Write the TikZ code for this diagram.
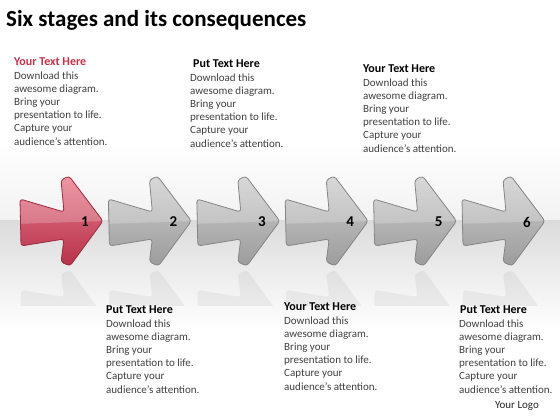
\documentclass[tikz,border=0pt]{standalone}
\usepackage{fontspec}
\setmainfont{Carlito}
\definecolor{redA}{HTML}{E8788A}
\definecolor{redB}{HTML}{B6334B}
\definecolor{redE}{HTML}{9E2A3E}
\definecolor{grayA}{HTML}{CDCDCD}
\definecolor{grayB}{HTML}{9C9C9C}
\definecolor{grayE}{HTML}{858585}
\definecolor{bodytxt}{HTML}{404040}
\definecolor{hdred}{HTML}{C3314B}
\tikzset{
  arrowpath/.style={rounded corners=3pt},
  redfill/.style={top color=redA,bottom color=redB},
  reddraw/.style={draw=redE,line width=0.8pt},
  grayfill/.style={top color=grayA,bottom color=grayB},
  graydraw/.style={draw=grayE,line width=0.8pt},
  numlabel/.style={font=\fontsize{15}{15}\selectfont\bfseries,text=black,inner sep=0pt},
  txtblock/.style={anchor=north west,align=left,inner sep=0pt,text=bodytxt,font=\fontsize{11}{13.2}\selectfont}
}
\newcommand\hdr[2]{{\fontsize{12}{13.2}\selectfont\bfseries\color{#1}#2}}
\newcommand\arrshape{(0,199) -- (44,212) -- (41,180) -- (49,176) -- (83,221) -- (50,266) -- (41,262) -- (44,239) -- (1,246) -- cycle}
\newcommand\onearrow[3]{%
  \begin{scope}[xshift=#1pt]
    \begin{scope}
      \clip (-5,268) rectangle (95,305);
      \fill[gray,opacity=0.10,rounded corners=3pt] (0,337) -- (44,324) -- (41,356) -- (49,360) -- (83,315) -- (50,270) -- (41,274) -- (44,297) -- (1,290) -- cycle;
    \end{scope}
    \path[arrowpath,#2] \arrshape;
    \begin{scope}
      \clip[arrowpath] \arrshape;
      \fill[white,opacity=0.22] (-5,170) -- (100,170) -- (84,221) -- (-5,224) -- cycle;
    \end{scope}
    \path[arrowpath,#3] \arrshape;
  \end{scope}}
\begin{document}
\begin{tikzpicture}[x=1pt,y=-1pt]
\useasboundingbox (0,0) rectangle (560,420);
\fill[white] (0,0) rectangle (560,420);
\shade[top color=white,bottom color=gray!10] (0,140) rectangle (560,220);
\shade[top color=gray!28,bottom color=white] (0,220) rectangle (560,330);

\node[anchor=west,inner sep=0pt,font=\fontsize{23}{26}\selectfont\bfseries,text=black] (title) at (6,20) {Six stages and its consequences};

\onearrow{20}{redfill}{reddraw}
\onearrow{108.4}{grayfill}{graydraw}
\onearrow{196.8}{grayfill}{graydraw}
\onearrow{285.2}{grayfill}{graydraw}
\onearrow{373.6}{grayfill}{graydraw}
\onearrow{462}{grayfill}{graydraw}

\node[numlabel] (n1) at (85,222) {1};
\node[numlabel] (n2) at (173.4,222) {2};
\node[numlabel] (n3) at (261.8,222) {3};
\node[numlabel] (n4) at (350.2,222) {4};
\node[numlabel] (n5) at (438.6,222) {5};
\node[numlabel] (n6) at (527,222) {6};

\node[txtblock] (t1) at (14,58) {\hdr{hdred}{Your Text Here}\\Download this\\awesome diagram.\\Bring your\\presentation to life.\\Capture your\\audience's attention.};
\node[txtblock] (t2) at (190,60) {\hspace{3pt}\hdr{black}{Put Text Here}\\Download this\\awesome diagram.\\Bring your\\presentation to life.\\Capture your\\audience's attention.};
\node[txtblock] (t3) at (363,65) {\hdr{black}{Your Text Here}\\Download this\\awesome diagram.\\Bring your\\presentation to life.\\Capture your\\audience's attention.};
\node[txtblock] (t4) at (106,306) {\hdr{black}{Put Text Here}\\Download this\\awesome diagram.\\Bring your\\presentation to life.\\Capture your\\audience's attention.};
\node[txtblock] (t5) at (284,303) {\hdr{black}{Your Text Here}\\Download this\\awesome diagram.\\Bring your\\presentation to life.\\Capture your\\audience's attention.};
\node[txtblock] (t6) at (459,306) {\hspace{1pt}\hdr{black}{Put Text Here}\\Download this\\awesome diagram.\\Bring your\\presentation to life.\\Capture your\\audience's attention.};
\node[anchor=center,inner sep=0pt,text=black!85,font=\fontsize{11}{13}\selectfont] (logo) at (517,406) {Your Logo};
\end{tikzpicture}
\end{document}
